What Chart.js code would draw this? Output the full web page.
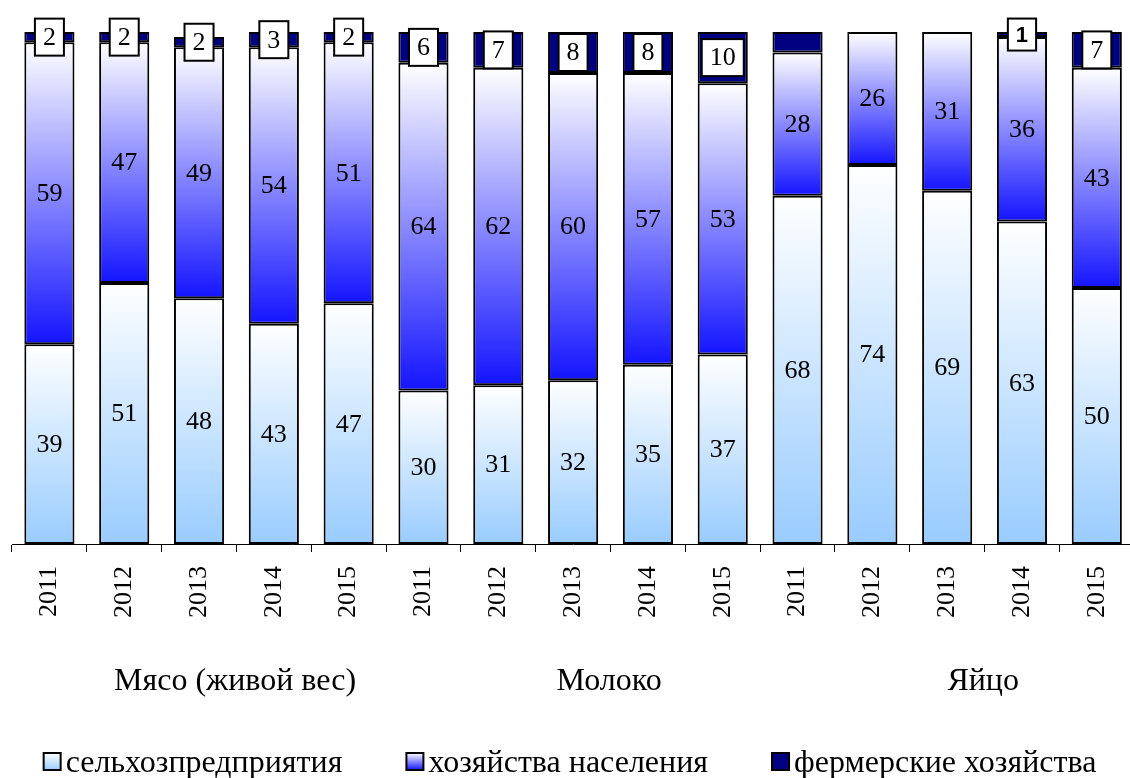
<!DOCTYPE html>
<html>
<head>
<meta charset="utf-8">
<script src="https://cdn.jsdelivr.net/npm/chart.js@4/dist/chart.umd.min.js"></script>
<style>
  html, body { margin: 0; padding: 0; background: #fff; overflow: hidden; }
  #wrap { width: 1142px; height: 778px; position: relative; }
</style>
</head>
<body>
<div id="wrap"><canvas id="chart"></canvas></div>
<script>
// years on the x axis, three product groups of five years each
const years = ["2011", "2012", "2013", "2014", "2015",
               "2011", "2012", "2013", "2014", "2015",
               "2011", "2012", "2013", "2014", "2015"];
const groups = ["Мясо (живой вес)", "Молоко", "Яйцо"];

const seriesNames = ["сельхозпредприятия", "хозяйства населения", "фермерские хозяйства"];

const agriEnterprises = [39, 51, 48, 43, 47, 30, 31, 32, 35, 37, 68, 74, 69, 63, 50];
const households      = [59, 47, 49, 54, 51, 64, 62, 60, 57, 53, 28, 26, 31, 36, 43];
const farms           = [2, 2, 2, 3, 2, 6, 7, 8, 8, 10, 4, 0, 0, 1, 7];
// labels shown in the little boxes on top (none for eggs 2011-2013)
const farmLabels      = ["2", "2", "2", "3", "2", "6", "7", "8", "8", "10", "", "", "", "1", "7"];

const FONT = "'Liberation Serif', 'Times New Roman', serif";
const baseColors = ['#99ccff', '#1414ff', '#000080'];

// gradient from white (top of segment) to colour (bottom of segment)
function gradFill(color, fallback) {
  return function(c) {
    if (c.type !== 'data') return fallback;
    const chart = c.chart;
    const y = chart.scales.y;
    if (!chart.chartArea || !y) return fallback;
    let start = 0;
    for (let d = 0; d < c.datasetIndex; d++) start += chart.data.datasets[d].data[c.dataIndex];
    const yTop = y.getPixelForValue(start + c.raw);
    const yBot = y.getPixelForValue(start);
    if (!isFinite(yTop) || !isFinite(yBot) || yTop === yBot) return fallback;
    const g = chart.ctx.createLinearGradient(0, yTop, 0, yBot);
    g.addColorStop(0, '#ffffff');
    g.addColorStop(1, color);
    return g;
  };
}

// value labels inside the segments
const valueLabels = {
  id: 'valueLabels',
  afterDatasetsDraw(chart) {
    const ctx = chart.ctx;
    ctx.save();
    ctx.textAlign = 'center';
    ctx.textBaseline = 'middle';
    chart.data.datasets.forEach((ds, di) => {
      const meta = chart.getDatasetMeta(di);
      meta.data.forEach((el, i) => {
        const cy = (el.y + el.base) / 2;
        if (di < 2) {
          if (!ds.data[i]) return;
          ctx.font = '26px ' + FONT;
          ctx.fillStyle = '#000';
          ctx.fillText(String(ds.data[i]), el.x, cy + 1);
        } else {
          const t = farmLabels[i];
          if (!t) return;
          ctx.font = t === '1' ? 'bold 22px "Liberation Sans", Arial, sans-serif' : '26px ' + FONT;
          const w = ctx.measureText(t).width + 16;
          const h = t === '1' ? 32 : 37;
          ctx.fillStyle = '#fff';
          ctx.fillRect(el.x - w / 2, cy - h / 2, w, h);
          ctx.lineWidth = 2;
          ctx.strokeStyle = '#000';
          ctx.strokeRect(el.x - w / 2, cy - h / 2, w, h);
          ctx.fillStyle = '#000';
          ctx.fillText(t, el.x, cy + 1);
        }
      });
    });
    ctx.restore();
  }
};

// product group names under the years, and the legend row
const bottomText = {
  id: 'bottomText',
  afterDraw(chart) {
    const x = chart.scales.x;
    const ctx = chart.ctx;
    ctx.save();
    ctx.font = '32px ' + FONT;
    ctx.fillStyle = '#000';
    ctx.textAlign = 'center';
    ctx.textBaseline = 'alphabetic';
    groups.forEach((g, k) => {
      ctx.fillText(g, x.getPixelForValue(k * 5 + 2) + 36, 690);
    });

    // legend
    const box = 17, gapText = 5, gapItem = 64;
    const widths = seriesNames.map(n => box + gapText + ctx.measureText(n).width);
    const total = widths.reduce((a, b) => a + b, 0) + gapItem * (seriesNames.length - 1);
    let lx = 570 - total / 2;
    const boxTop = 753;
    ctx.textAlign = 'left';
    seriesNames.forEach((n, k) => {
      let fill = baseColors[k];
      if (k < 2) {
        fill = ctx.createLinearGradient(0, boxTop, 0, boxTop + box);
        fill.addColorStop(0, '#ffffff');
        fill.addColorStop(1, baseColors[k]);
      }
      ctx.fillStyle = fill;
      ctx.fillRect(lx, boxTop, box, box);
      ctx.lineWidth = 2;
      ctx.strokeStyle = '#000';
      ctx.strokeRect(lx, boxTop, box, box);
      ctx.fillStyle = '#000';
      ctx.fillText(n, lx + box + gapText, 772);
      lx += widths[k] + gapItem;
    });
    ctx.restore();
  }
};

new Chart(document.getElementById('chart'), {
  type: 'bar',
  data: {
    labels: years,
    datasets: [
      {
        label: seriesNames[0],
        data: agriEnterprises,
        backgroundColor: gradFill(baseColors[0], '#d6ebff'),
        borderColor: '#000',
        borderWidth: 2,
        borderSkipped: false
      },
      {
        label: seriesNames[1],
        data: households,
        backgroundColor: gradFill(baseColors[1], '#8c8cff'),
        borderColor: '#000',
        borderWidth: 2,
        borderSkipped: false
      },
      {
        label: seriesNames[2],
        data: farms,
        backgroundColor: baseColors[2],
        borderColor: '#000',
        borderWidth: 2,
        borderSkipped: false
      }
    ]
  },
  options: {
    responsive: true,
    maintainAspectRatio: false,
    animation: false,
    datasets: { bar: { barPercentage: 0.67, categoryPercentage: 1 } },
    layout: { padding: { left: 12, right: 0, top: 32, bottom: 0 } },
    plugins: {
      tooltip: { enabled: false },
      legend: { display: false }
    },
    scales: {
      x: {
        stacked: true,
        grid: {
          display: true,
          drawOnChartArea: false,
          drawTicks: true,
          tickLength: 8,
          color: '#000',
          offset: true
        },
        border: { display: true, color: '#000', width: 1 },
        ticks: {
          autoSkip: false,
          minRotation: 90,
          maxRotation: 90,
          padding: 14,
          color: '#000',
          font: { family: FONT, size: 26 }
        },
        afterFit(s) { s.height = 234; }
      },
      y: {
        stacked: true,
        display: false,
        min: 0,
        max: 100
      }
    }
  },
  plugins: [valueLabels, bottomText]
});
</script>
</body>
</html>
